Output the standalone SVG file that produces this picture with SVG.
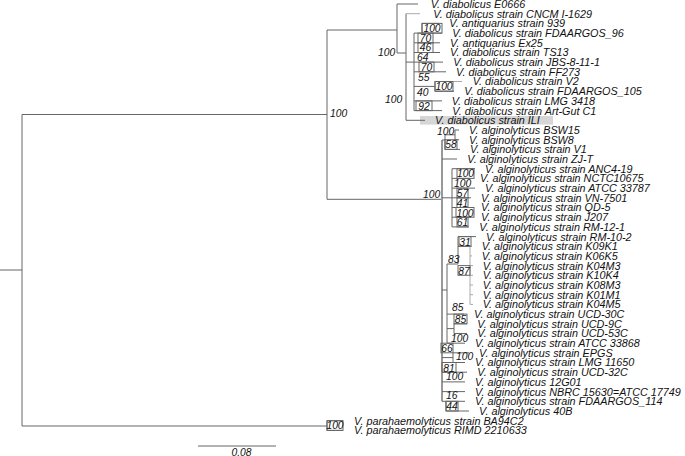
<svg xmlns="http://www.w3.org/2000/svg" width="685" height="456" viewBox="0 0 685 456">
<style>
.t{font-family:"Liberation Sans",Arial,sans-serif;font-style:italic;font-size:10.8px;fill:#111}
.s{font-family:"Liberation Sans",Arial,sans-serif;font-style:italic;font-size:10.3px;fill:#111}
.sm{font-family:"Liberation Sans",Arial,sans-serif;font-style:italic;font-size:10.3px;fill:#111;text-anchor:middle}
.c{fill:none;stroke:#666;stroke-width:1}
.g{fill:none;stroke:#aaa;stroke-width:1}
.k{fill:none;stroke:#999;stroke-width:2}
.bx{fill:none;stroke:#666;stroke-width:1}
</style>
<rect x="420" y="116" width="133" height="8.6" fill="#d6d6d6"/>
<g id="connectors">
<path class="c" d="M0 270H22M22 114.5V426M22 114.5H327M22 426H327M327 420.7V430.4M327 420.7H343M327 430.4H343M327 30V199.3M327 30H397M327 199.3H442"/>
<path class="c" d="M397 4V53M397 4H418M397 53H406M406 13.7V120.3M406 120.3H425M406 62.1H414M414 33.1V110.6M422 23.4V33.1M422 23.4H439M414 33.1H442M414 42.8H440M414 52.5H440M414 62.1H443M414 71.8H446M414 86.4H435M435 81.5V91.2M435 91.2H454M414 100.9H442M414 110.6H442"/>
<path class="g" d="M406 13.7H420M435 81.5H462"/>
<path class="k" d="M442 140V401.3"/>
<path class="c" d="M442 140H445M445 134.8V149.4M445 134.8H455M455 130V139.7M455 130H459M455 139.7H459M445 149.4H460M442 159H457M442 197.8H452M452 168.7V226.9M452 168.7H475M452 178.4H470M452 188.1H475M452 197.8H471M452 207.5H471M452 217.2H471M452 226.9H469"/>
<path class="c" d="M442 290H447M447 264V343.2M447 264H458M458 236.6V264M458 236.6H476M458 246.3H470M447 314.1H464M447 328.6H454M454 323.8V333.5M454 323.8H467M454 333.5H467M447 343.2H465"/>
<path class="g" d="M470 246.3V304.4M470 246.3H472M470 255.9H472M470 265.6H473M470 275.3H473M470 285H473M470 294.7H473M470 304.4H473"/>
<path class="c" d="M442 357.6H453M453 352.8V362.5M453 352.8H469M453 362.5H465M442 372.2H467M442 381.9H465M442 391.6H465M442 401.3H465M446 401.3V411M446 411H469"/>
<rect class="bx" x="422" y="23.4" width="20" height="9.7"/>
<rect class="bx" x="418" y="33.1" width="15" height="9.7"/>
<rect class="bx" x="418" y="42.8" width="15" height="9.7"/>
<rect class="bx" x="419" y="62.1" width="15" height="9.7"/>
<rect class="bx" x="435" y="81.5" width="18" height="9.7"/>
<rect class="bx" x="416" y="100.9" width="16" height="9.7"/>
<rect class="bx" x="445" y="139.7" width="12" height="9.7"/>
<rect class="bx" x="457" y="168.7" width="17" height="9.7"/>
<rect class="bx" x="457" y="188.1" width="11" height="9.7"/>
<rect class="bx" x="457" y="197.8" width="11" height="9.7"/>
<rect class="bx" x="456" y="207.5" width="18" height="9.7"/>
<rect class="bx" x="457" y="217.2" width="11" height="9.7" fill="#e4e4e4"/>
<rect class="bx" x="459" y="236.6" width="12" height="9.7"/>
<rect class="bx" x="458" y="265.6" width="12" height="9.7"/>
<rect class="bx" x="454" y="314.1" width="13" height="9.7"/>
<rect class="bx" x="441" y="343.2" width="12" height="9.6"/>
<rect class="bx" x="442" y="362.5" width="14" height="9.7"/>
<rect class="bx" x="446" y="401.3" width="12" height="9.7"/>
<rect class="bx" x="327" y="420.7" width="16" height="9.7"/>
</g>
<g id="support">
<text class="s" x="378" y="55.5">100</text>
<text class="s" x="330" y="117">100</text>
<text class="s" x="385" y="103">100</text>
<text class="sm" x="432" y="32">100</text>
<text class="sm" x="425.5" y="41.7">70</text>
<text class="sm" x="425.5" y="51.4">46</text>
<text class="s" x="417" y="61.3">64</text>
<text class="sm" x="426.5" y="70.8">70</text>
<text class="s" x="418" y="80.8">55</text>
<text class="s" x="417" y="96">40</text>
<text class="sm" x="444" y="90.2">100</text>
<text class="sm" x="424" y="109.6">92</text>
<text class="s" x="423" y="197.8">100</text>
<text class="s" x="437" y="134.8">100</text>
<text class="sm" x="451" y="148.4">58</text>
<text class="sm" x="465.5" y="177.4">100</text>
<text class="s" x="454" y="187.2">100</text>
<text class="sm" x="462.5" y="197.1">57</text>
<text class="sm" x="462.5" y="206.8">41</text>
<text class="sm" x="465" y="216.5">100</text>
<text class="sm" x="462.5" y="226.2">61</text>
<text class="sm" x="465" y="245.6">31</text>
<text class="s" x="448" y="263">83</text>
<text class="sm" x="464" y="274.6">87</text>
<text class="s" x="452" y="311.3">85</text>
<text class="sm" x="460.5" y="323.1">85</text>
<text class="s" x="451" y="342.2">100</text>
<text class="sm" x="447" y="352.1">66</text>
<text class="s" x="456" y="359.6">100</text>
<text class="sm" x="449" y="371.5">81</text>
<text class="s" x="446" y="380.2">100</text>
<text class="s" x="446" y="399.4">16</text>
<text class="sm" x="452" y="410.3">44</text>
<text class="sm" x="335" y="429.4">100</text>
</g>
<g id="n1"><text class="t" x="430.7" y="7.9">V. diabolicus E0666</text></g>
<g id="n2"><text class="t" x="433.3" y="17.6">V. diabolicus strain CNCM I-1629</text></g>
<g id="n3"><text class="t" x="449.3" y="27.3">V. antiquarius strain 939</text></g>
<g id="n4"><text class="t" x="452.3" y="37">V. diabolicus strain FDAARGOS_96</text></g>
<g id="n5"><text class="t" x="450" y="46.7">V. antiquarius Ex25</text></g>
<g id="n6"><text class="t" x="450" y="56.4">V. diabolicus strain TS13</text></g>
<g id="n7"><text class="t" x="453.3" y="66">V. diabolicus strain JBS-8-11-1</text></g>
<g id="n8"><text class="t" x="456" y="75.7">V. diabolicus strain FF273</text></g>
<g id="n9"><text class="t" x="472.7" y="85.4">V. diabolicus strain V2</text></g>
<g id="n10"><text class="t" x="464.3" y="95.1">V. diabolicus strain FDAARGOS_105</text></g>
<g id="n11"><text class="t" x="451.7" y="104.8">V. diabolicus strain LMG 3418</text></g>
<g id="n12"><text class="t" x="452.3" y="114.5">V. diabolicus strain Art-Gut C1</text></g>
<g id="n13"><text class="t" x="435" y="124.2">V. diabolicus strain ILI</text></g>
<g id="n14"><text class="t" x="469" y="133.9">V. alginolyticus BSW15</text></g>
<g id="n15"><text class="t" x="469" y="143.6">V. alginolyticus BSW8</text></g>
<g id="n16"><text class="t" x="470" y="153.3">V. alginolyticus strain V1</text></g>
<g id="n17"><text class="t" x="467.3" y="162.9">V. alginolyticus strain ZJ-T</text></g>
<g id="n18"><text class="t" x="485" y="172.6">V. alginolyticus strain ANC4-19</text></g>
<g id="n19"><text class="t" x="480" y="182.3">V. alginolyticus strain NCTC10675</text></g>
<g id="n20"><text class="t" x="485" y="192">V. alginolyticus strain ATCC 33787</text></g>
<g id="n21"><text class="t" x="481" y="201.7">V. alginolyticus strain VN-7501</text></g>
<g id="n22"><text class="t" x="481" y="211.4">V. alginolyticus strain QD-5</text></g>
<g id="n23"><text class="t" x="481" y="221.1">V. alginolyticus strain J207</text></g>
<g id="n24"><text class="t" x="479.3" y="230.8">V. alginolyticus strain RM-12-1</text></g>
<g id="n25"><text class="t" x="486" y="240.5">V. alginolyticus strain RM-10-2</text></g>
<g id="n26"><text class="t" x="481.7" y="250.2">V. alginolyticus strain K09K1</text></g>
<g id="n27"><text class="t" x="481.7" y="259.8">V. alginolyticus strain K06K5</text></g>
<g id="n28"><text class="t" x="482.7" y="269.5">V. alginolyticus strain K04M3</text></g>
<g id="n29"><text class="t" x="482.7" y="279.2">V. alginolyticus strain K10K4</text></g>
<g id="n30"><text class="t" x="482.7" y="288.9">V. alginolyticus strain K08M3</text></g>
<g id="n31"><text class="t" x="482.7" y="298.6">V. alginolyticus strain K01M1</text></g>
<g id="n32"><text class="t" x="482.7" y="308.3">V. alginolyticus strain K04M5</text></g>
<g id="n33"><text class="t" x="474" y="318">V. alginolyticus strain UCD-30C</text></g>
<g id="n34"><text class="t" x="477.3" y="327.7">V. alginolyticus strain UCD-9C</text></g>
<g id="n35"><text class="t" x="477.3" y="337.4">V. alginolyticus strain UCD-53C</text></g>
<g id="n36"><text class="t" x="475" y="347.1">V. alginolyticus strain ATCC 33868</text></g>
<g id="n37"><text class="t" x="479" y="356.7">V. alginolyticus strain EPGS</text></g>
<g id="n38"><text class="t" x="475" y="366.4">V. alginolyticus strain LMG 11650</text></g>
<g id="n39"><text class="t" x="477.3" y="376.1">V. alginolyticus strain UCD-32C</text></g>
<g id="n40"><text class="t" x="475" y="385.8">V. alginolyticus 12G01</text></g>
<g id="n41"><text class="t" x="475" y="395.5">V. alginolyticus NBRC 15630=ATCC 17749</text></g>
<g id="n42"><text class="t" x="475" y="405.2">V. alginolyticus strain FDAARGOS_114</text></g>
<g id="n43"><text class="t" x="479" y="414.9">V. alginolyticus 40B</text></g>
<g id="n44"><text class="t" x="354" y="424.6">V. parahaemolyticus strain BA94C2</text></g>
<g id="n45"><text class="t" x="354" y="434.3">V. parahaemolyticus RIMD 2210633</text></g>
<g id="scale">
<path class="c" d="M198 446H276"/>
<text class="sm" x="241.5" y="455.5">0.08</text>
</g>
</svg>
